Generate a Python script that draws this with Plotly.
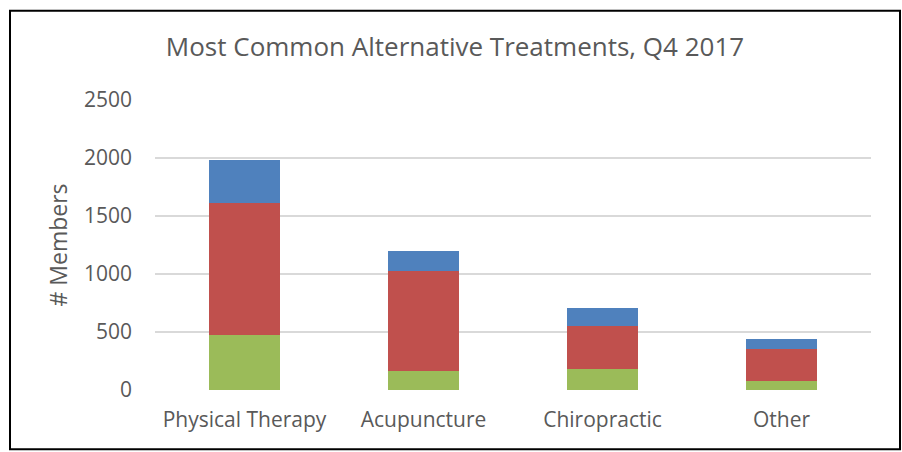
import plotly.graph_objects as go

categories = ["Physical Therapy", "Acupuncture", "Chiropractic", "Other"]
green_vals = [470, 160, 185, 80]
red_vals = [1140, 870, 365, 270]
blue_vals = [370, 170, 155, 90]
y_ticks = [0, 500, 1000, 1500, 2000, 2500]

W, H = 902, 452
L, R, T, B = 155, 31, 99.5, 61.5
pw, ph = W - L - R, H - T - B

txt = "#595959"
font = "Open Sans"

fig = go.Figure()
for name, vals, col in [("Series 1", green_vals, "#9BBB59"),
                        ("Series 2", red_vals, "#C0504D"),
                        ("Series 3", blue_vals, "#4F81BD")]:
    fig.add_trace(go.Bar(x=categories, y=vals, name=name,
                         marker=dict(color=col, line=dict(width=0)),
                         showlegend=False))

def px_x(px):
    return (px - L) / pw

def px_y(py):
    return (H - B - py) / ph

fig.update_layout(
    width=W, height=H,
    margin=dict(l=L, r=R, t=T, b=B, autoexpand=False),
    barmode="stack", bargap=0.6,
    paper_bgcolor="white", plot_bgcolor="white",
    font=dict(family=font, color=txt, size=21),
    title=dict(text="Most Common Alternative Treatments, Q4 2017",
               xref="container", x=455 / W, xanchor="center",
               yref="container", y=1 - 47 / H, yanchor="middle",
               font=dict(size=26, color=txt, family=font)),
    xaxis=dict(showgrid=False, showline=False, zeroline=False,
               tickfont=dict(size=21, color=txt), ticks="",
               ticklabelstandoff=15),
    yaxis=dict(range=[0, 2500], tickvals=y_ticks, showgrid=True,
               gridcolor="#D9D9D9", gridwidth=1.5, zeroline=False,
               showline=False, ticks="", ticklabelstandoff=22,
               tickfont=dict(size=21, color=txt),
               title=dict(text="# Members", standoff=9,
                          font=dict(size=23, color=txt))),
    shapes=[dict(type="rect", xref="paper", yref="paper",
                 x0=px_x(10), x1=px_x(900), y0=px_y(450), y1=px_y(10),
                 line=dict(color="black", width=2), fillcolor="rgba(0,0,0,0)",
                 layer="above")],
)

fig.write_html("out.html", config={"displayModeBar": False},
               post_script="document.body.style.margin='0';")
